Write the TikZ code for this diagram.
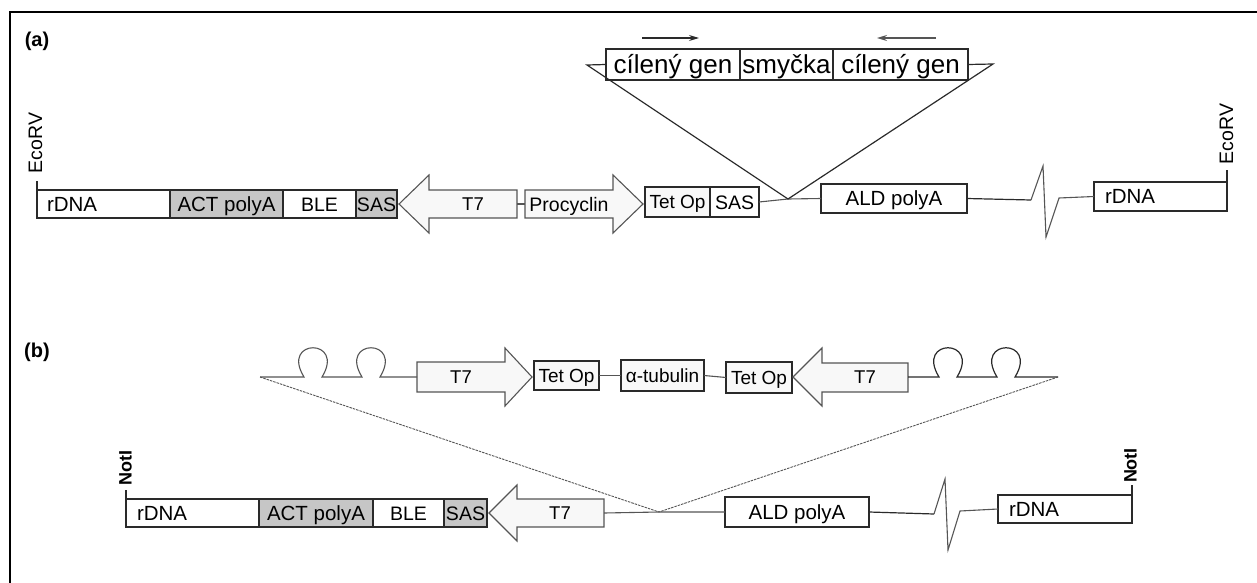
\documentclass[tikz,border=0pt]{standalone}
\usepackage{fontspec}
\setmainfont{Liberation Sans}
\usetikzlibrary{arrows.meta}
\definecolor{edge}{HTML}{2A2A2A}
\definecolor{shade}{HTML}{C6C6C6}
\definecolor{pale}{HTML}{F8F8F8}
\definecolor{wire}{HTML}{555555}
\tikzset{
  f20/.style={font=\fontsize{20.5}{22}\selectfont, text height=14.7pt, text depth=0pt},
  f19/.style={font=\fontsize{19.5}{21}\selectfont, text height=14.0pt, text depth=0pt},
  f18/.style={font=\fontsize{19}{20}\selectfont, text height=13.6pt, text depth=0pt},
  f17/.style={font=\fontsize{18.5}{19}\selectfont, text height=13.2pt, text depth=0pt},
  f25/.style={font=\fontsize{26}{27}\selectfont, text height=18.6pt, text depth=0pt},
  seg/.style 2 args={draw=edge, line width=1.25pt, fill=white, inner sep=0pt, outer sep=0pt,
    anchor=north west, minimum width=#1pt, minimum height=#2pt, f20},
  grayseg/.style 2 args={seg={#1}{#2}, fill=shade},
  paleseg/.style 2 args={seg={#1}{#2}, fill=pale},
  promoter/.style={draw=wire, line width=1.1pt, fill=pale, line join=miter},
  wireline/.style={draw=wire, line width=1.1pt},
  darkline/.style={draw=edge, line width=1.2pt},
  finedash/.style={draw=wire, line width=0.9pt, dash pattern=on 2.5pt off 1pt},
  lbl/.style={inner sep=0pt, outer sep=0pt},
  site/.style={inner sep=0pt, rotate=90, font=\fontsize{19.5}{21}\selectfont},
  boldsite/.style={inner sep=0pt, rotate=90, font=\bfseries\fontsize{18}{19}\selectfont},
  panel/.style={inner sep=0pt, font=\bfseries\fontsize{20}{22}\selectfont},
  tip/.style={-{Stealth[length=10pt,width=6pt]}},
}
\begin{document}
\begin{tikzpicture}[x=1pt,y=-1pt]
\useasboundingbox (0,0) rectangle (1257,583);

% frame
\coordinate (fr1) at (10,583);
\coordinate (fr2) at (10,12);
\coordinate (fr3) at (1257,12);
\draw[line width=1.5pt, black] (fr1) -- (fr2) -- (fr3);

% ---------------- panel (a) ----------------
\node[panel] (pa) at (37,41) {(a)};

\node[seg={133}{28}] (rDNAa) at (37,190) {};
\node[lbl, f20, anchor=west] (rDNAaT) at ([xshift=10pt]rDNAa.west) {rDNA};
\node[grayseg={113}{28}] (ACTa) at (170,190) {ACT polyA};
\node[seg={73}{28}, f19] (BLEa) at (283,190) {BLE};
\node[grayseg={41}{28}, f19] (SASa) at (356,190) {SAS};

% T7 promoter pointing left
\draw[promoter] (399,204) -- (429,175) -- (429,190) -- (517,190) -- (517,218)
  -- (429,218) -- (429,233) -- cycle;
\coordinate (T7aE) at (517,204);
\node[lbl, f17] (T7aT) at (473,204) {T7};

% procyclin promoter pointing right
\draw[promoter] (525,190) -- (613,190) -- (613,175) -- (643,204) -- (613,233)
  -- (613,218) -- (525,218) -- cycle;
\coordinate (ProW) at (525,204);
\node[lbl, f19] (ProT) at (569,204) {Procyclin};
\draw[wireline] (T7aE) -- (ProW);

\node[paleseg={65}{30}, f18] (TetA) at (645,187) {Tet Op};
\node[seg={49}{30}, f19] (SASa2) at (710,187) {SAS};
\coordinate (insA) at (788,199);
\node[seg={146}{29}] (ALDa) at (821,184) {ALD polyA};
\draw[wireline] (SASa2.east) -- (insA) -- (ALDa.west);

\node[seg={133}{29}] (rDNAa2) at (1094,182) {};
\node[lbl, f20, anchor=west] (rDNAa2T) at ([xshift=11pt]rDNAa2.west) {rDNA};

% break in the sequence
\coordinate (zA1) at (1031,200);
\coordinate (zA2) at (1043,166);
\coordinate (zA3) at (1046,237);
\coordinate (zA4) at (1059,198);
\draw[darkline] (ALDa.east) -- (zA1);
\draw[wireline, line join=miter] (zA1) -- (zA2) -- (zA3) -- (zA4) -- (rDNAa2.west);

% EcoRV sites
\coordinate (ecoL) at (37,181);
\draw[darkline] (ecoL) -- (rDNAa.north west);
\node[site] (ecoLT) at (35.5,143) {EcoRV};
\coordinate (ecoR) at (1227,170);
\draw[darkline] (ecoR) -- (rDNAa2.north east);
\node[site] (ecoRT) at (1226.5,134) {EcoRV};

% hairpin insert
\node[seg={134}{31}, f25] (cg1) at (606,49) {cílený gen};
\node[seg={93}{31}, f25] (smy) at (740,49) {smyčka};
\node[seg={135}{31}, f25] (cg2) at (833,49) {cílený gen};
\coordinate (tipAL) at (587,65);
\coordinate (tipAR) at (993,64);
\draw[darkline, line join=miter] (cg1.west) -- (tipAL) -- (insA) -- (tipAR) -- (cg2.east);

\coordinate (arL1) at (642,38);
\coordinate (arL2) at (699,38);
\draw[darkline, tip] (arL1) -- (arL2);
\coordinate (arR1) at (936,38);
\coordinate (arR2) at (877,38);
\draw[wireline, tip] (arR1) -- (arR2);

% ---------------- panel (b) ----------------
\node[panel] (pb) at (37,352) {(b)};

% insert with terminators
\coordinate (tipBL) at (260,377);
\draw[promoter] (417,362) -- (505,362) -- (505,348) -- (532,377) -- (505,406)
  -- (505,392) -- (417,392) -- cycle;
\coordinate (T7bW) at (417,377);
\node[lbl, f17] (T7bT) at (461,377) {T7};
\draw[wireline] (tipBL) -- (304,377) .. controls (280,338) and (346,338) .. (322,377)
  -- (362,377) .. controls (338,338) and (404,338) .. (380,377) -- (T7bW);

\node[paleseg={65}{29}, f18] (TetB1) at (534,361) {Tet Op};
\node[paleseg={83}{31}, f18] (tub) at (621,360) {α-tubulin};
\node[paleseg={66}{31}, f18] (TetB2) at (726,362) {Tet Op};
\draw[wireline] (TetB1.east) -- (tub.west);
\draw[wireline] (tub.east) -- (TetB2.west);

\draw[promoter] (793,377) -- (822,348) -- (822,363) -- (908,363) -- (908,392)
  -- (822,392) -- (822,406) -- cycle;
\coordinate (T7b2E) at (908,377);
\node[lbl, f17] (T7b2T) at (865,377) {T7};
\coordinate (tipBR) at (1058,377);
\draw[darkline] (T7b2E) -- (939,377) .. controls (915,338) and (981,338) .. (957,377)
  -- (997,377) .. controls (973,338) and (1039,338) .. (1015,377) -- (tipBR);

\coordinate (insB) at (659,512);
\draw[finedash] (tipBL) -- (insB) -- (tipBR);

% construct
\node[seg={133}{28}] (rDNAb) at (126,499) {};
\node[lbl, f20, anchor=west] (rDNAbT) at ([xshift=11pt]rDNAb.west) {rDNA};
\node[grayseg={114}{28}] (ACTb) at (259,499) {ACT polyA};
\node[seg={71}{28}, f19] (BLEb) at (373,499) {BLE};
\node[grayseg={43}{28}, f19] (SASb) at (444,499) {SAS};

\draw[promoter] (489,513) -- (517,485) -- (517,499) -- (604,499) -- (604,527)
  -- (517,527) -- (517,541) -- cycle;
\coordinate (T7b3E) at (604,513);
\node[lbl, f17] (T7b3T) at (560,513) {T7};

\node[seg={144}{30}] (ALDb) at (725,497) {ALD polyA};
\draw[wireline] (T7b3E) -- (insB) -- (ALDb.west);

\node[seg={134}{28}] (rDNAb2) at (998,495) {};
\node[lbl, f20, anchor=west] (rDNAb2T) at ([xshift=11pt]rDNAb2.west) {rDNA};

\coordinate (zB1) at (934,514);
\coordinate (zB2) at (945,479);
\coordinate (zB3) at (948,550);
\coordinate (zB4) at (960,511);
\draw[darkline] (ALDb.east) -- (zB1);
\draw[wireline, line join=miter] (zB1) -- (zB2) -- (zB3) -- (zB4) -- (rDNAb2.west);

% NotI sites
\coordinate (notL) at (126,490);
\draw[darkline] (notL) -- (rDNAb.north west);
\node[boldsite] (notLT) at (125.5,467.5) {NotI};
\coordinate (notR) at (1132,485);
\draw[darkline] (notR) -- (rDNAb2.north east);
\node[boldsite] (notRT) at (1130.5,465.5) {NotI};
\end{tikzpicture}
\end{document}
